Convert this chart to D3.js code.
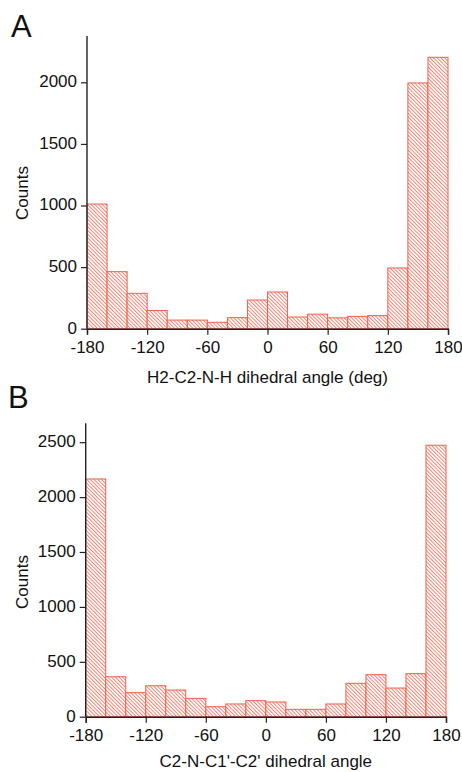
<!DOCTYPE html>
<html>
<head>
<meta charset="utf-8">
<script src="https://cdn.jsdelivr.net/npm/d3@7"></script>
<style>
  html, body { margin: 0; padding: 0; background: #fff; }
  svg { display: block; }
  text { font-family: "Liberation Sans", Arial, sans-serif; fill: #111; }
</style>
</head>
<body>
<svg id="chart" width="462" height="772"></svg>
<script>
// ---- data ----
const binStartsA = [-180,-160,-140,-120,-100,-80,-60,-40,-20,0,20,40,60,80,100,120,140,160];
const countsA    = [1012, 463, 287, 148, 70, 70, 52, 90, 233, 298, 95, 118, 88, 100, 106, 493, 1995, 2203];
const binStartsB = [-180,-160,-140,-120,-100,-80,-60,-40,-20,0,20,40,60,80,100,120,140,160];
const countsB    = [2165, 364, 219, 282, 243, 167, 91, 116, 146, 134, 67, 67, 116, 304, 383, 261, 392, 2472];
const binWidth = 20;
const xTicks = [-180, -120, -60, 0, 60, 120, 180];
const yTicksA = [0, 500, 1000, 1500, 2000];
const yTicksB = [0, 500, 1000, 1500, 2000, 2500];
const xLabelA = "H2-C2-N-H dihedral angle (deg)";
const xLabelB = "C2-N-C1'-C2' dihedral angle";
const yLabel = "Counts";

const svg = d3.select("#chart");
const barStroke = "#f0604c";
const hatchColor = "#f37a68";
const FONT = "'Liberation Sans', Arial, sans-serif";

const defs = svg.append("defs");
const pat = defs.append("pattern")
  .attr("id", "hatch")
  .attr("patternUnits", "userSpaceOnUse")
  .attr("width", 2.6).attr("height", 10)
  .attr("patternTransform", "rotate(-45)");
pat.append("rect").attr("width", 2.6).attr("height", 10).attr("fill", "#fff");
pat.append("line").attr("x1", 0.5).attr("y1", 0).attr("x2", 0.5).attr("y2", 10)
  .attr("stroke", hatchColor).attr("stroke-width", 0.9);

function panel(cfg) {
  const x = d3.scaleLinear().domain([-180, 180]).range([cfg.x0, cfg.x1]);
  const y = d3.scaleLinear().domain([0, cfg.yMax]).range([cfg.yBottom, cfg.yTop]);
  const g = svg.append("g");

  g.selectAll("rect.bar").data(cfg.starts.map((s, i) => ({s, v: cfg.counts[i]})))
    .enter().append("rect")
    .attr("class", "bar")
    .attr("x", d => x(d.s))
    .attr("width", d => x(d.s + binWidth) - x(d.s))
    .attr("y", d => y(d.v))
    .attr("height", d => y(0) - y(d.v))
    .attr("fill", "url(#hatch)")
    .attr("stroke", barStroke)
    .attr("stroke-width", 1);

  const fmt = d => String(d);

  const xAxis = g.append("g").attr("transform", `translate(0,${cfg.yBottom})`);
  xAxis.call(d3.axisBottom(x).tickValues(d3.range(-150, 180, 60)).tickSize(3).tickFormat(""));
  xAxis.call(d3.axisBottom(x).tickValues(xTicks).tickSize(6).tickPadding(6).tickFormat(fmt));
  xAxis.selectAll(".domain").attr("stroke", "#222").attr("stroke-width", 1.4);
  xAxis.selectAll("line").attr("stroke", "#222").attr("stroke-width", 1.2);
  xAxis.selectAll("text").style("font-size", "17px").attr("fill", "#111").style("font-family", FONT);

  const minorY = d3.range(250, cfg.yMax, 500);
  const yAxis = g.append("g").attr("transform", `translate(${cfg.x0},0)`);
  yAxis.call(d3.axisLeft(y).tickValues(minorY).tickSize(3).tickFormat(""));
  yAxis.call(d3.axisLeft(y).tickValues(cfg.yTicks).tickSize(6).tickPadding(4).tickFormat(fmt));
  yAxis.selectAll(".domain").attr("stroke", "#222").attr("stroke-width", 1.4)
    .attr("d", `M0,${cfg.yBottom}V${cfg.yTop}`);
  yAxis.selectAll("line").attr("stroke", "#222").attr("stroke-width", 1.2);
  yAxis.selectAll("text").style("font-size", "17px").attr("fill", "#111").style("font-family", FONT)
    .attr("dy", "0.26em");

  g.append("text").attr("x", (cfg.x0 + cfg.x1) / 2).attr("y", cfg.xLabelY)
    .attr("text-anchor", "middle").style("font-size", "17px").text(cfg.xLabel);
  g.append("text").attr("transform", `translate(${cfg.yLabelX},${cfg.yLabelY}) rotate(-90)`)
    .attr("text-anchor", "middle").style("font-size", "17px").text(yLabel);
  g.append("text").attr("x", cfg.letterX).attr("y", cfg.letterY)
    .style("font-size", "31px").text(cfg.letter);
}

panel({
  starts: binStartsA, counts: countsA, yTicks: yTicksA, yMax: 2376,
  x0: 87, x1: 448, yBottom: 328.7, yTop: 36,
  xLabelY: 383, xLabel: xLabelA, yLabelX: 28, yLabelY: 193,
  letter: "A", letterX: 11, letterY: 37
});
panel({
  starts: binStartsB, counts: countsB, yTicks: yTicksB, yMax: 2672,
  x0: 85.7, x1: 446, yBottom: 716.7, yTop: 423.3,
  xLabelY: 767, xLabel: xLabelB, yLabelX: 28, yLabelY: 582,
  letter: "B", letterX: 8, letterY: 408
});
</script>
</body>
</html>
